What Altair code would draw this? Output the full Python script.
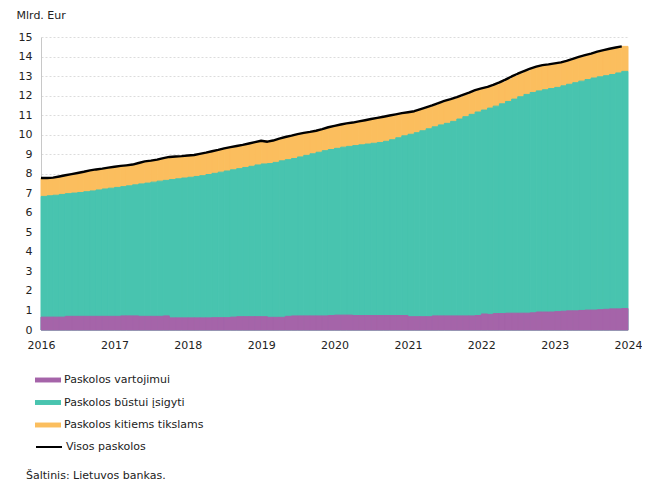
import altair as alt
import pandas as pd

# Monthly values, Jan 2016 .. Dec 2023 (billion EUR), cumulative levels
consumer = [
    0.66, 0.66, 0.66, 0.66, 0.70, 0.70, 0.70, 0.70, 0.70, 0.70, 0.70, 0.70,
    0.70, 0.72, 0.72, 0.72, 0.70, 0.70, 0.70, 0.70, 0.72, 0.62, 0.62, 0.62,
    0.62, 0.62, 0.62, 0.62, 0.63, 0.63, 0.63, 0.66, 0.68, 0.68, 0.68, 0.68,
    0.68, 0.65, 0.65, 0.65, 0.70, 0.72, 0.72, 0.72, 0.72, 0.72, 0.72, 0.74,
    0.76, 0.76, 0.76, 0.74, 0.74, 0.74, 0.74, 0.74, 0.74, 0.74, 0.74, 0.74,
    0.68, 0.68, 0.68, 0.68, 0.72, 0.72, 0.72, 0.72, 0.72, 0.72, 0.72, 0.74,
    0.82, 0.80, 0.84, 0.84, 0.86, 0.86, 0.86, 0.86, 0.88, 0.92, 0.92, 0.92,
    0.94, 0.96, 0.98, 0.98, 1.00, 1.02, 1.02, 1.04, 1.06, 1.08, 1.08, 1.10,
]
# consumer + housing (top of the teal band)
housing_top = [
    6.84, 6.87, 6.90, 6.94, 6.98, 7.01, 7.04, 7.08, 7.12, 7.17, 7.22, 7.26,
    7.30, 7.34, 7.38, 7.43, 7.48, 7.52, 7.57, 7.62, 7.66, 7.70, 7.74, 7.78,
    7.82, 7.86, 7.90, 7.96, 8.02, 8.08, 8.14, 8.20, 8.26, 8.32, 8.38, 8.45,
    8.50, 8.52, 8.58, 8.66, 8.72, 8.78, 8.86, 8.94, 9.02, 9.10, 9.18, 9.24,
    9.30, 9.36, 9.40, 9.44, 9.48, 9.52, 9.56, 9.60, 9.66, 9.74, 9.84, 9.94,
    10.02, 10.10, 10.20, 10.30, 10.40, 10.50, 10.58, 10.68, 10.80, 10.92, 11.04, 11.16,
    11.26, 11.36, 11.46, 11.58, 11.70, 11.82, 11.94, 12.06, 12.16, 12.24, 12.30, 12.36,
    12.42, 12.50, 12.58, 12.66, 12.74, 12.82, 12.90, 12.96, 13.02, 13.08, 13.16, 13.24,
]
# all loans (total)
total = [
    7.78, 7.78, 7.80, 7.86, 7.92, 7.98, 8.04, 8.10, 8.17, 8.22, 8.26, 8.31,
    8.36, 8.40, 8.43, 8.47, 8.55, 8.63, 8.67, 8.72, 8.80, 8.86, 8.88, 8.90,
    8.93, 8.96, 9.02, 9.08, 9.15, 9.22, 9.30, 9.36, 9.42, 9.48, 9.55, 9.62,
    9.69, 9.64, 9.70, 9.80, 9.88, 9.95, 10.03, 10.09, 10.14, 10.20, 10.28, 10.38,
    10.45, 10.52, 10.58, 10.62, 10.68, 10.74, 10.80, 10.86, 10.92, 10.98, 11.04, 11.10,
    11.15, 11.20, 11.30, 11.40, 11.50, 11.62, 11.73, 11.82, 11.92, 12.04, 12.15, 12.28,
    12.37, 12.45, 12.55, 12.68, 12.82, 12.98, 13.12, 13.25, 13.38, 13.48, 13.56, 13.60,
    13.65, 13.70, 13.78, 13.88, 13.98, 14.07, 14.15, 14.25, 14.33, 14.40, 14.46, 14.52,
]

series_names = ["Paskolos vartojimui", "Paskolos būstui įsigyti", "Paskolos kitiems tikslams"]
series_colors = ["#A564A9", "#48C4AF", "#FBBE5E"]
line_name = "Visos paskolos"
years = list(range(2016, 2025))

starts = pd.date_range("2016-01-01", periods=96, freq="MS")
ends = pd.date_range("2016-02-01", periods=96, freq="MS")
df = pd.DataFrame({
    "date": starts.strftime("%Y-%m-%d"),
    "date_end": ends.strftime("%Y-%m-%d"),
    "consumer": consumer,
    "housing_top": housing_top,
    "total": total,
})

FONT = "DejaVu Sans"

x_scale = alt.Scale(type="utc",
                    domain=[alt.DateTime(year=2016, month=1, date=1, utc=True),
                            alt.DateTime(year=2024, month=1, date=1, utc=True)])
x_axis = alt.Axis(values=[alt.DateTime(year=y, month=1, date=1, utc=True) for y in years],
                  format="%Y", labelFlush=False, title=None)
y_scale = alt.Scale(domain=[0, 15], nice=False)
y_axis = alt.Axis(values=list(range(0, 16)), title="Mlrd. Eur", titleAngle=0,
                  titleX=-25, titleY=-22, titleAlign="left", titleBaseline="middle")

fill_scale = alt.Scale(domain=series_names, range=series_colors)
fill_legend = alt.Legend(orient="none", legendX=-6, legendY=330, direction="vertical",
                         title=None, symbolType="M-1,-0.19H1V0.19H-1Z", symbolSize=676,
                         symbolStrokeWidth=0, labelOffset=3, rowPadding=4.5)

base = alt.Chart(df)
X = alt.X("date:T", scale=x_scale, axis=x_axis)
X2 = alt.X2("date_end:T")


def band(name, color, top, bottom):
    enc = dict(
        x=X, x2=X2,
        y=alt.Y(f"{top}:Q", scale=y_scale, axis=y_axis),
        fill=alt.Fill("series:N", scale=fill_scale, legend=fill_legend),
    )
    if bottom is None:
        enc["y2"] = alt.Y2(datum=0)
    else:
        enc["y2"] = alt.Y2(f"{bottom}:Q")
    return base.transform_calculate(series=f"'{name}'").mark_rect(
        stroke=color, strokeWidth=1).encode(**enc)


other_layer = band(series_names[2], series_colors[2], "total", "housing_top")
housing_layer = band(series_names[1], series_colors[1], "housing_top", None)
consumer_layer = band(series_names[0], series_colors[0], "consumer", None)

line_layer = base.transform_calculate(lname=f"'{line_name}'").mark_line(
    strokeWidth=2.4, strokeJoin="round").encode(
    x=X,
    y=alt.Y("total:Q", scale=y_scale, axis=y_axis),
    stroke=alt.Stroke("lname:N",
                      scale=alt.Scale(domain=[line_name], range=["#000000"]),
                      legend=alt.Legend(orient="none", legendX=-6, legendY=396,
                                        title=None, symbolType="stroke", symbolSize=676,
                                        symbolStrokeWidth=2, labelOffset=3)),
)

chart = alt.layer(other_layer, housing_layer, consumer_layer, line_layer).properties(
    width=587, height=293,
    autosize=alt.AutoSizeParams(type="none"),
    padding={"left": 33, "top": 29, "right": 14, "bottom": 155},
    title=alt.TitleParams("Šaltinis: Lietuvos bankas.", orient="bottom", anchor="start",
                          frame="group", dx=-15, offset=18, fontSize=11,
                          fontWeight="normal", color="#222222", font=FONT),
).resolve_legend(fill="shared", stroke="independent").configure(
    font=FONT,
).configure_view(stroke=None).configure_axis(
    labelFont=FONT, labelFontSize=11, labelColor="#222222",
    titleFont=FONT, titleFontSize=11, titleFontWeight="normal", titleColor="#222222",
    domainColor="#c8c8c8", domainWidth=1, ticks=False, labelPadding=9,
).configure_axisX(grid=False).configure_axisY(
    grid=True, gridColor="#dcdcdc", gridDash=[2, 2], gridWidth=1,
).configure_legend(
    labelFont=FONT, labelFontSize=11, labelColor="#222222",
)

chart.save("out.html", embed_options={"renderer": "svg", "actions": False})
